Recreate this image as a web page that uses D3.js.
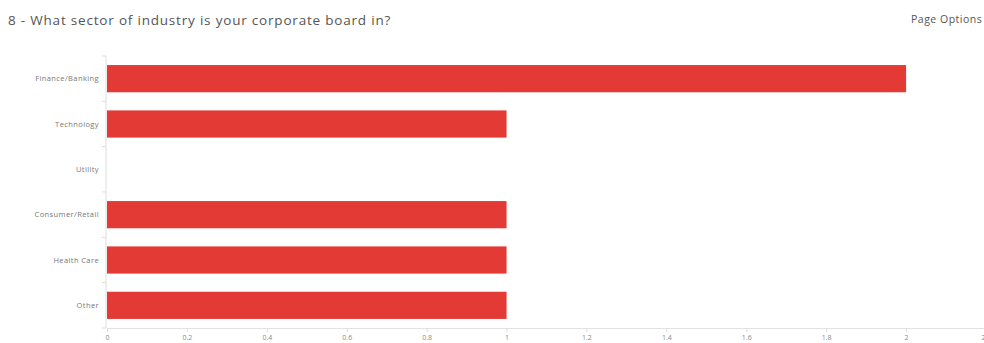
<!DOCTYPE html>
<html>
<head>
<meta charset="utf-8">
<script src="https://cdn.jsdelivr.net/npm/d3@7"></script>
<style>
  html, body { margin: 0; padding: 0; background: #fff; }
  svg { display: block; font-family: "Open Sans", "DejaVu Sans", sans-serif; }
</style>
</head>
<body>
<svg id="chart" width="984" height="343"></svg>
<script>
// Survey question 8: board sector counts
const categories = ["Finance/Banking", "Technology", "Utility", "Consumer/Retail", "Health Care", "Other"];
const counts = [2, 1, 0, 1, 1, 1];
const xTicks = [0, 0.2, 0.4, 0.6, 0.8, 1, 1.2, 1.4, 1.6, 1.8, 2, 2.2];
const titleText = "8 - What sector of industry is your corporate board in?";
const optionsText = "Page Options";

const svg = d3.select("#chart");
const plotLeft = 107, plotRight = 986, plotTop = 56, plotBottom = 328;

const x = d3.scaleLinear().domain([0, 2.2]).range([plotLeft, plotRight]);
const y = d3.scaleBand().domain(categories).range([plotTop, plotBottom])
  .paddingInner(0.4).paddingOuter(0.2);

// header
svg.append("text")
  .attr("x", 8).attr("y", 25)
  .attr("font-size", 13.5).attr("fill", "#555")
  .attr("letter-spacing", 0.8)
  .text(titleText);
svg.append("text")
  .attr("x", 911).attr("y", 23)
  .attr("font-size", 10.5).attr("fill", "#555")
  .attr("letter-spacing", 0.5)
  .text(optionsText);

// bars
svg.append("g").selectAll("rect")
  .data(categories.map((c, i) => ({ c, v: counts[i] })).filter(d => d.v > 0))
  .join("rect")
  .attr("x", x(0))
  .attr("y", d => y(d.c))
  .attr("width", d => x(d.v) - x(0))
  .attr("height", y.bandwidth())
  .attr("fill", "#e43a36");

// x axis
const xAxis = svg.append("g")
  .attr("transform", `translate(0,${plotBottom})`)
  .call(d3.axisBottom(x).tickValues(xTicks).tickSize(4).tickPadding(3)
    .tickFormat(d3.format("~g")));
xAxis.select(".domain").attr("stroke", "#e2e2e2");
xAxis.selectAll(".tick line").attr("stroke", "#ddd");
xAxis.selectAll(".tick text").attr("fill", "#8a8a8a").attr("font-size", 7)
  .attr("font-family", "\"Open Sans\", sans-serif");

// y axis with ticks at band boundaries
const yAxis = svg.append("g");
yAxis.append("line")
  .attr("x1", plotLeft - 1).attr("x2", plotLeft - 1)
  .attr("y1", plotTop).attr("y2", plotBottom)
  .attr("stroke", "#ddd");
const bounds = d3.range(categories.length + 1).map(i => plotTop + i * y.step());
yAxis.selectAll(".btick").data(bounds).join("line")
  .attr("class", "btick")
  .attr("x1", plotLeft - 5).attr("x2", plotLeft - 1)
  .attr("y1", d => d).attr("y2", d => d)
  .attr("stroke", "#ddd");
yAxis.selectAll(".ylab").data(categories).join("text")
  .attr("class", "ylab")
  .attr("x", plotLeft - 8)
  .attr("y", d => y(d) + y.bandwidth() / 2)
  .attr("dy", "0.35em")
  .attr("text-anchor", "end")
  .attr("font-size", 7.5)
  .attr("letter-spacing", 0.4)
  .attr("fill", "#777")
  .text(d => d);
</script>
</body>
</html>
